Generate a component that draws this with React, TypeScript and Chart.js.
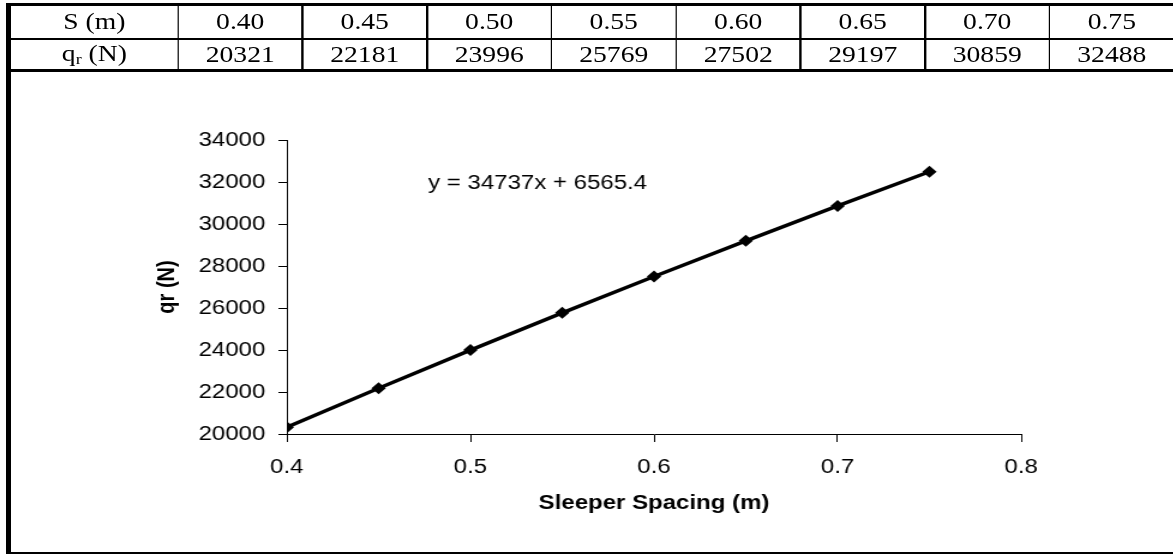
import React, { useEffect, useRef } from "react";
import { Chart, registerables } from "chart.js";

Chart.register(...registerables);

// ---- data ----
const sleeperSpacing = [0.4, 0.45, 0.5, 0.55, 0.6, 0.65, 0.7, 0.75];
const spacingLabels = ["0.40", "0.45", "0.50", "0.55", "0.60", "0.65", "0.70", "0.75"];
const railSeatLoad = [20321, 22181, 23996, 25769, 27502, 29197, 30859, 32488];
const loadLabels = ["20321", "22181", "23996", "25769", "27502", "29197", "30859", "32488"];
const xTickValues = [0.4, 0.5, 0.6, 0.7, 0.8];
const yTickValues = [20000, 22000, 24000, 26000, 28000, 30000, 32000, 34000];
const equationText = "y = 34737x + 6565.4";
const equationAnchor = { x: 0.477, y: 31950 };
const xTitle = "Sleeper Spacing (m)";
const yTitle = "qr (N)";

// ---- layout (logical units; whole page is stretched 1.2x horizontally) ----
const STRETCH = 1.2;
const colEdges = [9, 148.3, 252.1, 355.8, 459.6, 563.3, 667.1, 770.8, 874.6, 978.4];
const SANS = '"Liberation Sans", Arial, sans-serif';
const SERIF = '"Liberation Serif", "Times New Roman", serif';

const equationPlugin = {
  id: "equationLabel",
  afterDatasetsDraw(chart: any) {
    const { ctx, scales } = chart;
    const px = scales.x.getPixelForValue(equationAnchor.x);
    const py = scales.y.getPixelForValue(equationAnchor.y);
    ctx.save();
    ctx.font = `20px ${SANS}`;
    ctx.fillStyle = "#000";
    ctx.textAlign = "left";
    ctx.textBaseline = "middle";
    ctx.fillText(equationText, px, py);
    ctx.restore();
  },
};

function ChartBox() {
  const ref = useRef<HTMLCanvasElement | null>(null);
  useEffect(() => {
    if (!ref.current) return;
    const chart = new Chart(ref.current, {
      type: "scatter",
      data: {
        datasets: [
          {
            data: sleeperSpacing.map((s, i) => ({ x: s, y: railSeatLoad[i] })),
            showLine: true,
            borderColor: "#000",
            borderWidth: 3.5,
            backgroundColor: "#000",
            pointStyle: "rectRot",
            pointRadius: 6,
            pointBackgroundColor: "#000",
            pointBorderColor: "#000",
            pointBorderWidth: 0,
            tension: 0,
          },
        ],
      },
      options: {
        animation: false,
        responsive: true,
        maintainAspectRatio: false,
        layout: { padding: { left: 127, right: 127, top: 68, bottom: 37 } },
        plugins: { legend: { display: false }, tooltip: { enabled: false } },
        scales: {
          x: {
            type: "linear",
            min: 0.4,
            max: 0.8,
            afterBuildTicks: (s: any) => {
              s.ticks = xTickValues.map((v) => ({ value: v }));
            },
            afterFit: (s: any) => {
              s.height = 81;
            },
            ticks: {
              color: "#000",
              font: { family: SANS, size: 20 },
              padding: 13,
              maxRotation: 0,
              callback: (v: any) => Number(v).toFixed(1),
            },
            grid: { display: true, drawOnChartArea: false, drawTicks: true, tickLength: 8, color: "#000", lineWidth: 1 },
            border: { display: true, color: "#000", width: 1 },
            title: {
              display: true,
              text: xTitle,
              color: "#000",
              font: { family: SANS, size: 20, weight: "bold" },
              padding: 0,
            },
          },
          y: {
            type: "linear",
            min: 20000,
            max: 34000,
            afterBuildTicks: (s: any) => {
              s.ticks = yTickValues.map((v) => ({ value: v }));
            },
            afterFit: (s: any) => {
              s.width = 112;
            },
            ticks: {
              color: "#000",
              font: { family: SANS, size: 20 },
              padding: 11,
              callback: (v: any) => String(v),
            },
            grid: { display: true, drawOnChartArea: false, drawTicks: true, tickLength: 7, color: "#000", lineWidth: 1 },
            border: { display: true, color: "#000", width: 1 },
            title: {
              display: true,
              text: yTitle,
              color: "#000",
              font: { family: SANS, size: 20, weight: "bold" },
              padding: 0,
            },
          },
        },
      },
      plugins: [equationPlugin],
    });
    return () => chart.destroy();
  }, []);
  return (
    <div style={{ position: "absolute", left: 0, top: 72, width: 978, height: 480 }}>
      <canvas ref={ref} />
    </div>
  );
}

function Cell({ col, top, height, children }: { col: number; top: number; height: number; children: any }) {
  return (
    <div
      style={{
        position: "absolute",
        left: colEdges[col],
        width: colEdges[col + 1] - colEdges[col],
        top,
        height,
        display: "flex",
        alignItems: "center",
        justifyContent: "center",
        fontFamily: SERIF,
        fontSize: 23,
        color: "#000",
        whiteSpace: "nowrap",
      }}
    >
      {children}
    </div>
  );
}

function Rule({ left, top, width, height }: { left: number; top: number; width: number; height: number }) {
  return <div style={{ position: "absolute", left, top, width, height, background: "#000" }} />;
}

export default function App() {
  return (
    <div style={{ position: "fixed", left: 0, top: 0, width: 1173, height: 554, overflow: "hidden", background: "#fff" }}>
      <div
        style={{
          position: "absolute",
          left: 0,
          top: 0,
          width: 978,
          height: 554,
          transform: `scaleX(${STRETCH})`,
          transformOrigin: "0 0",
        }}
      >
        <ChartBox />
        {/* table cells */}
        <Cell col={0} top={6} height={32}>S (m)</Cell>
        {spacingLabels.map((t, i) => (
          <Cell key={"s" + i} col={i + 1} top={6} height={32}>
            {t}
          </Cell>
        ))}
        <Cell col={0} top={40} height={29}>
          <span>
            q<sub style={{ fontSize: 15, verticalAlign: "-3px" }}>r</sub> (N)
          </span>
        </Cell>
        {loadLabels.map((t, i) => (
          <Cell key={"q" + i} col={i + 1} top={40} height={29}>
            {t}
          </Cell>
        ))}
        {/* table rules */}
        <Rule left={5} top={3} width={974} height={3} />
        <Rule left={5} top={38} width={974} height={2} />
        <Rule left={5} top={69} width={974} height={3} />
        {colEdges.slice(1, 9).map((e, i) => (
          <Rule key={"v" + i} left={e - 0.75} top={6} width={1.5} height={63} />
        ))}
        {/* chart box rules */}
        <Rule left={5} top={552} width={974} height={2} />
        <Rule left={5} top={3} width={4} height={551} />
      </div>
    </div>
  );
}
